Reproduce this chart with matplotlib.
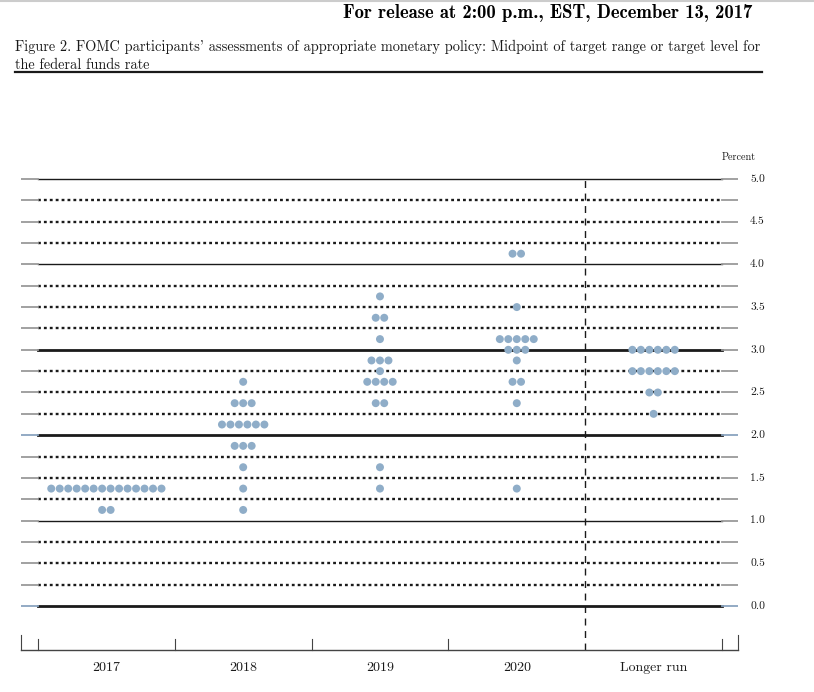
import numpy as np
import matplotlib
matplotlib.use("Agg")
import matplotlib.pyplot as plt
from matplotlib.lines import Line2D

# ---- data: midpoint projections (percent) and number of participants ----
columns = ["2017", "2018", "2019", "2020", "Longer run"]

levels_2017 = [1.375, 1.125]
counts_2017 = [14, 2]

levels_2018 = [2.625, 2.375, 2.125, 1.875, 1.625, 1.375, 1.125]
counts_2018 = [1, 3, 6, 3, 1, 1, 1]

levels_2019 = [3.625, 3.375, 3.125, 2.875, 2.75, 2.625, 2.375, 1.625, 1.375]
counts_2019 = [1, 2, 1, 3, 1, 4, 2, 1, 1]

levels_2020 = [4.125, 3.5, 3.125, 3.0, 2.875, 2.625, 2.375, 1.375]
counts_2020 = [2, 1, 5, 3, 1, 2, 1, 1]

levels_lr = [3.0, 2.75, 2.5, 2.25]
counts_lr = [6, 6, 2, 1]

all_levels = [levels_2017, levels_2018, levels_2019, levels_2020, levels_lr]
all_counts = [counts_2017, counts_2018, counts_2019, counts_2020, counts_lr]

y_ticks = [0.0, 0.5, 1.0, 1.5, 2.0, 2.5, 3.0, 3.5, 4.0, 4.5, 5.0]

DOT = "#8fadc8"
INK = "#1a1a1a"
SERIF = ["cmr10", "DejaVu Serif"]

W, H = 814, 692
fig = plt.figure(figsize=(W / 100, H / 100), dpi=100)
# axes placed in pixel terms: x from 21 to 738 px, y from 650 (bottom) to 170 (top)
ax = fig.add_axes([21 / W, (H - 650) / H, (738 - 21) / W, (650 - 170) / H])
XL, XR = -0.624, 4.617
ax.set_xlim(XL, XR)
ax.set_ylim(-0.515, 5.105)
ax.axis("off")

# ---- horizontal rules every quarter point ------------------------------
for lv in np.arange(0, 5.01, 0.25):
    if lv % 1 == 0:
        lw = 2.0 if lv in (0, 2, 3) else 1.0
        ls = "-"
    else:
        lw = 1.7
        ls = (0, (1.2, 1.3))
    ax.plot([-0.5, 4.5], [lv, lv], color=INK, lw=lw, ls=ls, zorder=1)
    ec = "#8aa4bf" if lv in (0, 2) else "#9a9a9a"
    ax.plot([XL, -0.5], [lv, lv], color=ec, lw=1.3, zorder=1)
    ax.plot([4.5, XR], [lv, lv], color=ec, lw=1.3, zorder=1)

# ---- dots --------------------------------------------------------------
spacing = 0.062
for i, (lvls, cnts) in enumerate(zip(all_levels, all_counts)):
    for lv, n in zip(lvls, cnts):
        xs = i + (np.arange(n) - (n - 1) / 2) * spacing
        ax.scatter(xs, [lv] * n, s=33, color=DOT, edgecolors="none", zorder=3)

# ---- separator before longer run --------------------------------------
ax.plot([3.5, 3.5], [-0.515, 5.0], color=INK, lw=1.0, ls=(0, (5, 4)), zorder=2)

# ---- bottom axis and ticks ---------------------------------------------
ax.plot([XL, XR], [-0.515, -0.515], color="#444444", lw=1.0, clip_on=False)
for b in np.arange(-0.5, 4.51, 1.0):
    if b == 3.5:
        continue
    ax.plot([b, b], [-0.515, -0.386], color="#444444", lw=0.8, clip_on=False)
for b in (XL, XR):
    ax.plot([b, b], [-0.515, -0.34], color="#444444", lw=0.8, clip_on=False)

for i, lab in enumerate(columns):
    ax.text(i, -0.73, lab, ha="center", va="center", fontsize=10,
            family=SERIF, color=INK, clip_on=False)

# ---- right-hand percent labels -----------------------------------------
for t in y_ticks:
    ax.text(4.705, t, f"{t:.1f}", ha="left", va="center", fontsize=8.3,
            family=SERIF, color=INK, clip_on=False)
ax.text(4.62, 5.26, "Percent", ha="center", va="center", fontsize=7.3,
        family=SERIF, color=INK, clip_on=False)

# ---- page header and figure title ---------------------------------------
fig.add_artist(Line2D([0, 1], [1 - 1 / H, 1 - 1 / H], color="#cccccc", lw=1.5))
fig.text(752 / W, 1 - 13 / H, "For release at 2:00 p.m., EST, December 13, 2017",
         ha="right", va="center", fontsize=13.4, family=["cmb10", "DejaVu Serif"],
         color="black")
fig.text(15 / W, 1 - 47 / H,
         "Figure 2. FOMC participants' assessments of appropriate monetary policy: "
         "Midpoint of target range or target level for",
         ha="left", va="center", fontsize=10.35, family=SERIF, color=INK)
fig.text(15 / W, 1 - 65 / H, "the federal funds rate",
         ha="left", va="center", fontsize=10.35, family=SERIF, color=INK)
fig.add_artist(Line2D([15 / W, 762 / W], [1 - 72 / H, 1 - 72 / H], color=INK, lw=1.6))

fig.savefig("out.png", dpi=100)
